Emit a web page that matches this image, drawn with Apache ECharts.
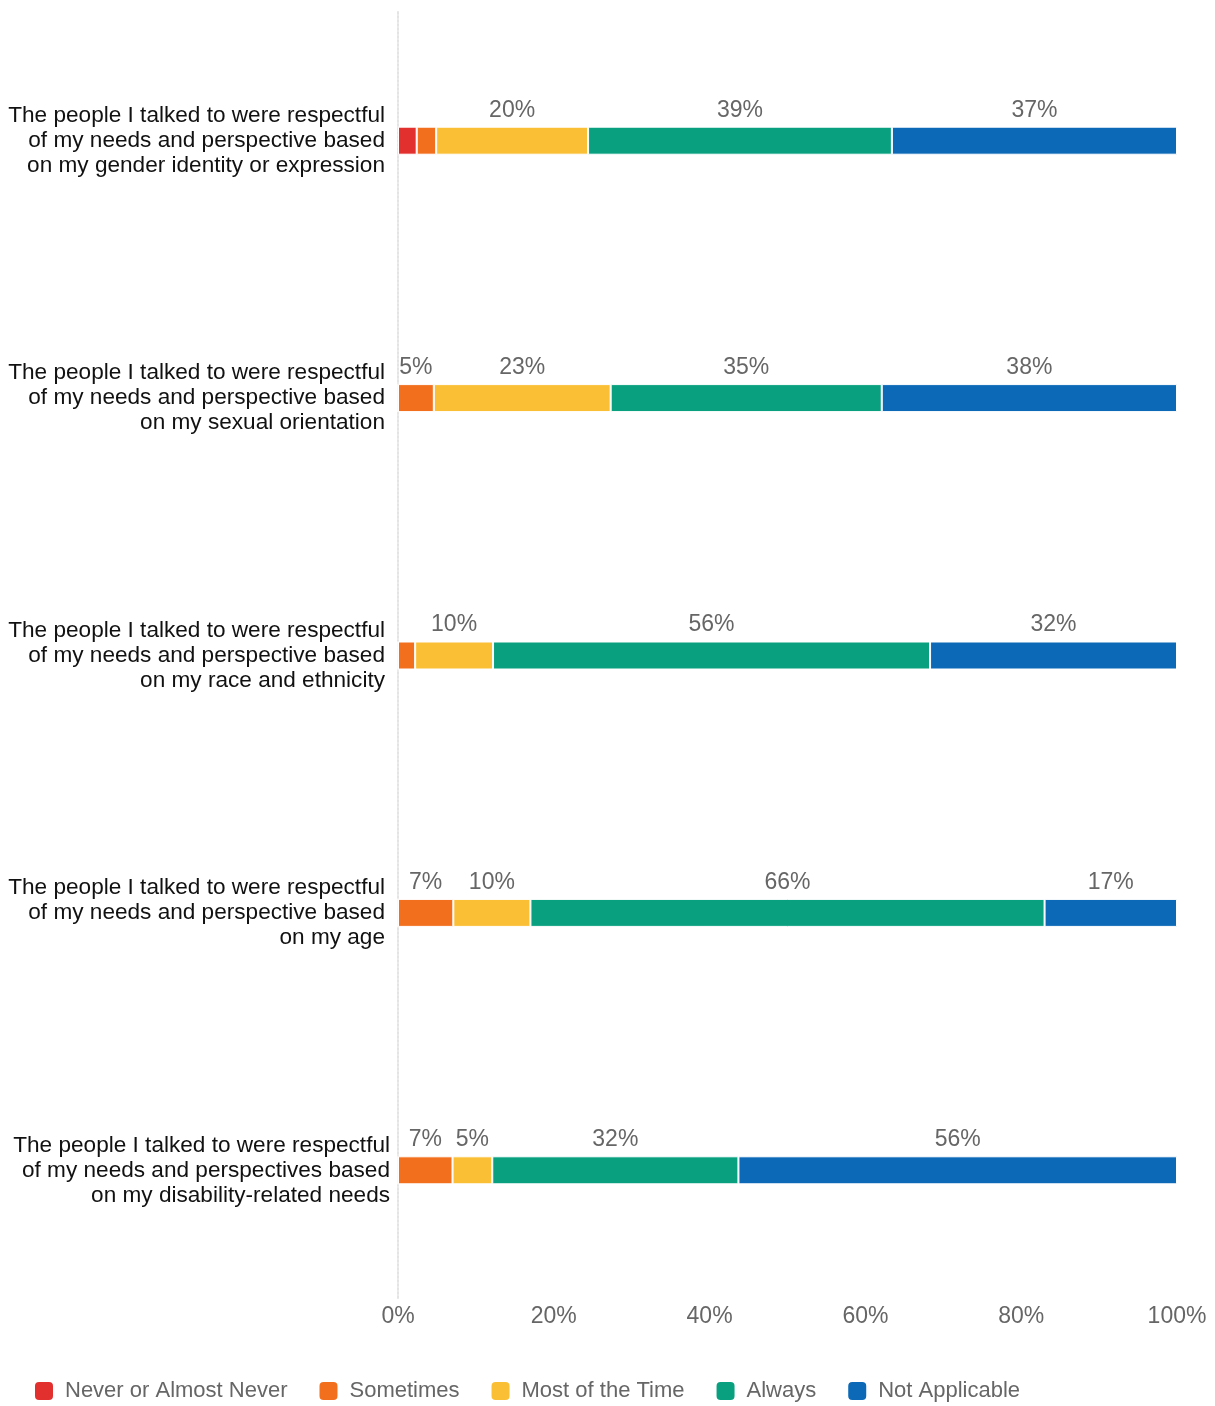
<!DOCTYPE html>
<html>
<head>
<meta charset="utf-8">
<script src="https://cdn.jsdelivr.net/npm/echarts@6/dist/echarts.min.js"></script>
<style>
html,body{margin:0;padding:0;background:#fff;}
#chart{width:1215px;height:1406px;}
</style>
</head>
<body>
<div id="chart"></div>
<script>
const categories = [
  "The people I talked to were respectful\nof my needs and perspective based\non my gender identity or expression",
  "The people I talked to were respectful\nof my needs and perspective based\non my sexual orientation",
  "The people I talked to were respectful\nof my needs and perspective based\non my race and ethnicity",
  "The people I talked to were respectful\nof my needs and perspective based\non my age",
  "The people I talked to were respectful\nof my needs and perspectives based\non my disability-related needs"
];
const seriesNames = ["Never or Almost Never", "Sometimes", "Most of the Time", "Always", "Not Applicable"];
const neverValues     = [2.4, 0,    0,    0,    0];
const sometimesValues = [2.5, 4.6,  2.2,  7.1,  7.0];
const mostValues      = [19.5, 22.7, 10.0, 9.9, 5.1];
const alwaysValues    = [39.0, 34.8, 56.1, 66.0, 31.6];
const naValues        = [36.6, 37.9, 31.7, 17.0, 56.3];
const xTicks = [0, 20, 40, 60, 80, 100];

const colors = ["#e2302f", "#f26f1e", "#fbbf36", "#08a07f", "#0b69b7"];
const allValues = [neverValues, sometimesValues, mostValues, alwaysValues, naValues];

const chart = echarts.init(document.getElementById('chart'), null, {renderer: 'canvas'});
const font = "'Liberation Sans', Arial, Helvetica, sans-serif";

const series = seriesNames.map((name, i) => ({
  name: name,
  type: 'bar',
  stack: 'total',
  barWidth: 28,
  data: allValues[i],
  itemStyle: { color: colors[i], borderColor: '#ffffff', borderWidth: 1 },
  label: {
    show: true,
    position: 'top',
    distance: 5,
    color: '#666',
    fontFamily: font,
    fontSize: 23,
    formatter: p => (p.value >= 4 ? Math.round(p.value) + '%' : '')
  }
}));

const yLabelStyle = { color: '#111', fontFamily: font, fontSize: 22.6, lineHeight: 25, align: 'right' };

chart.setOption({
  backgroundColor: '#ffffff',
  animation: false,
  color: colors,
  grid: { left: 398, right: 38, top: 12, bottom: 107, containLabel: false },
  xAxis: {
    type: 'value',
    min: 0, max: 100, interval: 20,
    axisLine: { show: false },
    axisTick: { show: false },
    splitLine: { show: false },
    axisLabel: {
      margin: 6,
      color: '#666',
      fontFamily: font,
      fontSize: 23,
      formatter: v => (xTicks.indexOf(v) >= 0 ? v + '%' : '')
    }
  },
  yAxis: {
    type: 'category',
    inverse: true,
    data: categories,
    axisLine: { show: true, lineStyle: { color: '#e4e4e4', type: 'dotted', width: 2 } },
    axisTick: { show: false },
    axisLabel: {
      margin: 8,
      align: 'right',
      formatter: (v, idx) => {
        const key = idx === categories.length - 1 ? 'w' : 'n';
        return v.split('\n').map(s => '{' + key + '|' + s + '}').join('\n');
      },
      rich: {
        n: Object.assign({}, yLabelStyle, { padding: [0, 5, 0, 0] }),
        w: Object.assign({}, yLabelStyle, { padding: [0, 0, 0, 0] })
      }
    }
  },
  legend: {
    data: seriesNames,
    left: 28,
    top: 1375,
    itemWidth: 20,
    itemHeight: 20,
    itemGap: 30,
    icon: 'roundRect',
    textStyle: { color: '#666', fontFamily: font, fontSize: 22, padding: [0, 0, 0, 6] }
  },
  series: series
});
</script>
</body>
</html>
